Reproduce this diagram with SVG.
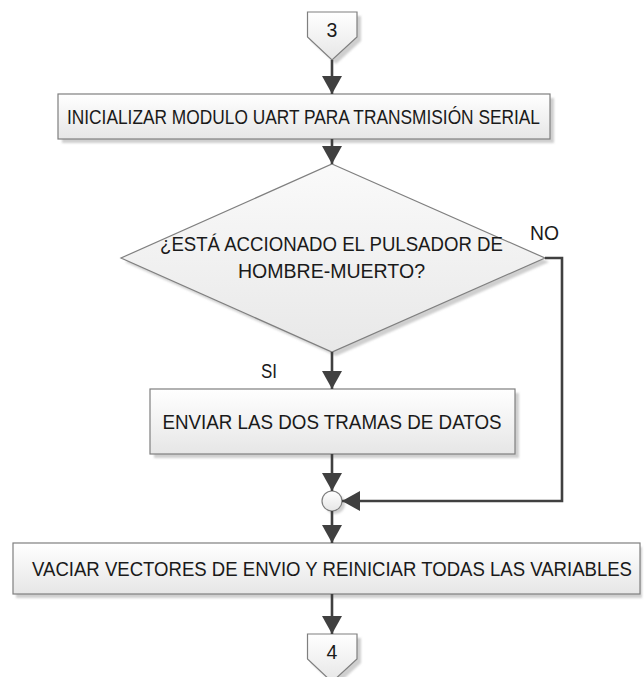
<svg xmlns="http://www.w3.org/2000/svg" width="644" height="677" viewBox="0 0 644 677">
<defs>
<linearGradient id="g" x1="0" y1="0" x2="0" y2="1">
<stop offset="0" stop-color="#ffffff"/>
<stop offset="1" stop-color="#e6e6e6"/>
</linearGradient>
<linearGradient id="gd" x1="0" y1="0" x2="0" y2="1">
<stop offset="0" stop-color="#fafafa"/>
<stop offset="1" stop-color="#e8e8e8"/>
</linearGradient>
<filter id="sh" x="-10%" y="-10%" width="130%" height="140%">
<feGaussianBlur stdDeviation="1.2"/>
</filter>
<marker id="ah" viewBox="0 0 18 20" refX="18" refY="10" markerWidth="18" markerHeight="20" markerUnits="userSpaceOnUse" orient="auto">
<path d="M0,0 L18,10 L0,20 Z" fill="#404040"/>
</marker>
</defs>
<style>
.box{fill:url(#g);stroke:#7f7f7f;stroke-width:1.2}
.shd{fill:#cfcfcf;filter:url(#sh)}
.t{font-family:"Liberation Sans",Arial,sans-serif;font-size:19.5px;fill:#1a1a1a;text-anchor:middle}
.lbl{font-family:"Liberation Sans",Arial,sans-serif;font-size:19.5px;fill:#1a1a1a}
.c{fill:none;stroke:#404040;stroke-width:2.6;marker-end:url(#ah)}
</style>
<rect width="644" height="677" fill="#ffffff"/>

<g id="conn3">
<path class="shd" d="M311,16 H361 V41 L336,64 L311,41 Z"/>
<path class="box" d="M307.5,12 H357 V37 L332,60 L307.5,37 Z"/>
<text class="t" x="332" y="37" font-size="17.5">3</text>
</g>

<g id="init">
<rect class="shd" x="62" y="98" width="492" height="45"/>
<rect class="box" x="58" y="94" width="492" height="45"/>
<text class="t" x="303.5" y="123.5" textLength="473" lengthAdjust="spacingAndGlyphs">INICIALIZAR MODULO UART PARA TRANSMISIÓN SERIAL</text>
</g>

<g id="decision">
<path class="shd" d="M336,168 L549,262 L336,356 L125,262 Z"/>
<path class="box" d="M332,164 L545,258 L332,352 L121,258 Z" style="fill:url(#gd)"/>
<text class="t" x="331.5" y="251" textLength="343" lengthAdjust="spacingAndGlyphs">¿ESTÁ ACCIONADO EL PULSADOR DE</text>
<text class="t" x="331.5" y="278" textLength="187" lengthAdjust="spacingAndGlyphs">HOMBRE-MUERTO?</text>
</g>

<g id="enviar">
<rect class="shd" x="154" y="393" width="365" height="65"/>
<rect class="box" x="150" y="389" width="365" height="65"/>
<text class="t" x="332" y="428.5" textLength="339" lengthAdjust="spacingAndGlyphs">ENVIAR LAS DOS TRAMAS DE DATOS</text>
</g>

<g id="merge">
<circle class="shd" cx="335" cy="504" r="10"/>
<circle class="box" cx="332" cy="501" r="10"/>
</g>

<g id="vaciar">
<rect class="shd" x="16" y="547" width="626" height="51"/>
<rect class="box" x="13" y="543" width="627" height="51"/>
<text class="t" x="332" y="575.5" font-size="18.4" textLength="600" lengthAdjust="spacingAndGlyphs">VACIAR VECTORES DE ENVIO Y REINICIAR TODAS LAS VARIABLES</text>
</g>

<g id="conn4">
<path class="shd" d="M311,638 H361 V663 L336,686 L311,663 Z"/>
<path class="box" d="M307.5,634 H357 V659 L332,682 L307.5,659 Z"/>
<text class="t" x="332" y="659" font-size="17.5">4</text>
</g>

<g id="connectors">
<path class="c" d="M332,60 V94"/>
<path class="c" d="M332,139 V164"/>
<path class="c" d="M332,352 V389"/>
<path class="c" d="M332,454 V491"/>
<path class="c" d="M545,258 H562 V501 H342"/>
<path class="c" d="M332,511 V543"/>
<path class="c" d="M332,594 V634"/>
<text class="lbl" x="530" y="240" textLength="29" lengthAdjust="spacingAndGlyphs">NO</text>
<text class="lbl" x="261" y="378" textLength="16" lengthAdjust="spacingAndGlyphs">SI</text>
</g>
</svg>
